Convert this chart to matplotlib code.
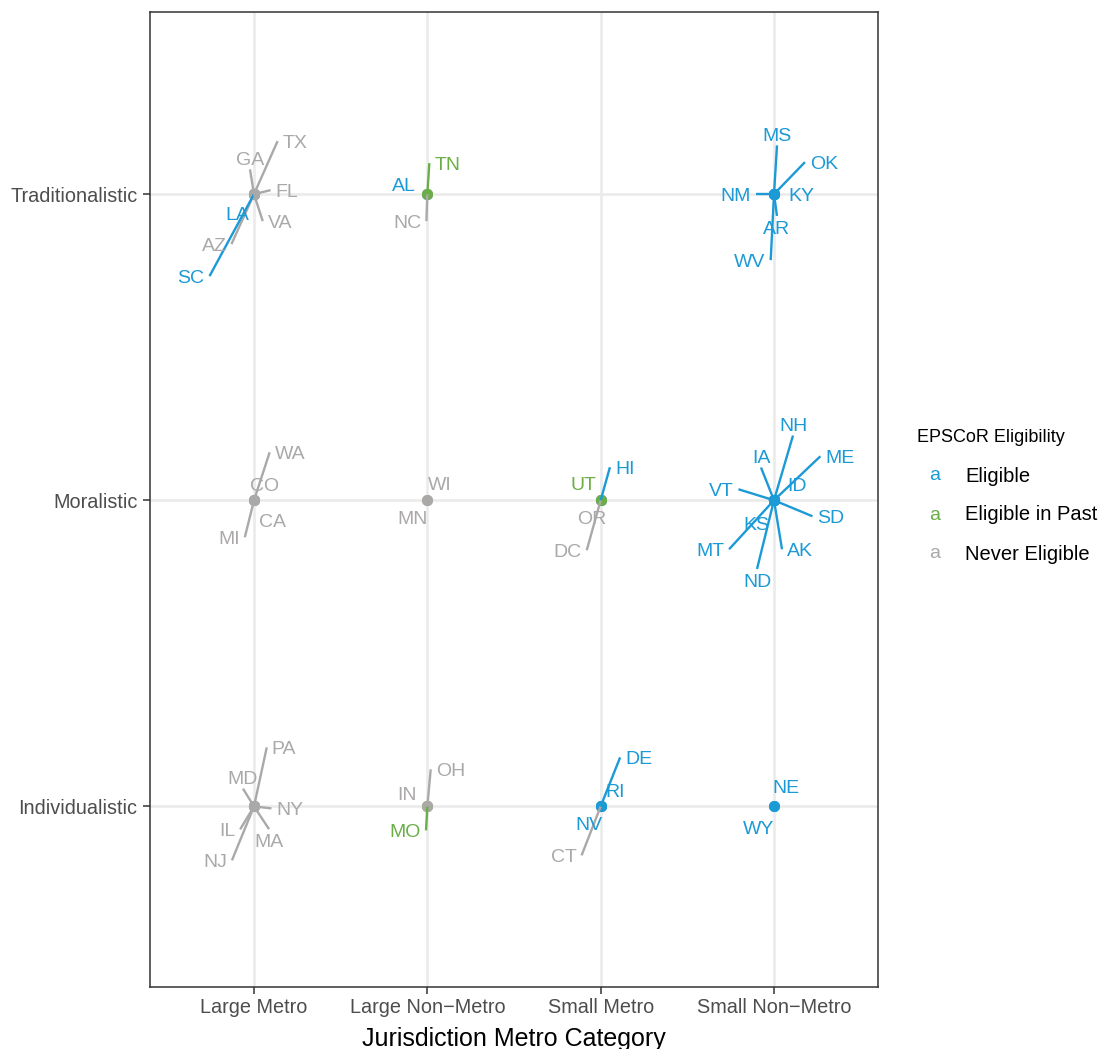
import matplotlib
matplotlib.use('Agg')
import matplotlib.pyplot as plt
from matplotlib.font_manager import FontProperties
import numpy as np

plt.rcParams['font.family'] = ['Liberation Sans', 'DejaVu Sans']

# ---- data ----
categories = ['Large Metro', 'Large Non\u2212Metro', 'Small Metro', 'Small Non\u2212Metro']
cultures = ['Individualistic', 'Moralistic', 'Traditionalistic']
elig_levels = ['Eligible', 'Eligible in Past', 'Never Eligible']

states = ['AK', 'AL', 'AR', 'AZ', 'CA', 'CO', 'CT', 'DC', 'DE', 'FL', 'GA', 'HI', 'IA',
          'ID', 'IL', 'IN', 'KS', 'KY', 'LA', 'MA', 'MD', 'ME', 'MI', 'MN', 'MO', 'MS',
          'MT', 'NC', 'ND', 'NE', 'NH', 'NJ', 'NM', 'NV', 'NY', 'OH', 'OK', 'OR', 'PA',
          'RI', 'SC', 'SD', 'TN', 'TX', 'UT', 'VA', 'VT', 'WA', 'WI', 'WV', 'WY']

LM, LNM, SM, SNM = categories
metro = [SNM, LNM, SNM, LM, LM, LM, SM, SM, SM, LM, LM, SM, SNM,
         SNM, LM, LNM, SNM, SNM, LM, LM, LM, SNM, LM, LNM, LNM, SNM,
         SNM, LNM, SNM, SNM, SNM, LM, SNM, SM, LM, LNM, SNM, SM, LM,
         SM, LM, SNM, LNM, LM, SM, LM, SNM, LM, LNM, SNM, SNM]

I_, M_, T_ = cultures
culture = [M_, T_, T_, T_, M_, M_, I_, M_, I_, T_, T_, M_, M_,
           M_, I_, I_, M_, T_, T_, I_, I_, M_, M_, M_, I_, T_,
           M_, T_, M_, I_, M_, I_, T_, I_, I_, I_, T_, M_, I_,
           I_, T_, M_, T_, T_, M_, T_, M_, M_, M_, T_, I_]

E_, P_, N_ = elig_levels
eligibility = [E_, E_, E_, N_, N_, N_, N_, N_, E_, N_, N_, E_, E_,
               E_, N_, N_, E_, E_, E_, N_, N_, E_, N_, N_, P_, E_,
               E_, N_, E_, E_, E_, N_, E_, E_, N_, N_, E_, N_, N_,
               E_, E_, E_, P_, N_, P_, N_, E_, N_, N_, E_, E_]

# label placement (pixel offsets from the point, y downwards) - repel layout
label_offset = {
    'AZ': (-40, 50), 'FL': (33, -4), 'GA': (-4, -36), 'LA': (-17, 19), 'SC': (-63, 82),
    'TX': (41, -53), 'VA': (26, 27),
    'AL': (-23, -10), 'NC': (-20, 27), 'TN': (20, -31),
    'AR': (3, 33), 'KY': (27, 0), 'MS': (3, -60), 'NM': (-38, 0), 'OK': (50, -32), 'WV': (-24, 66),
    'CA': (18, 20), 'CO': (11, -16), 'MI': (-25, 37), 'WA': (36, -48),
    'MN': (-15, 17), 'WI': (12, -17),
    'DC': (-33, 50), 'HI': (24, -33), 'OR': (-9, 17), 'UT': (-17, -17),
    'AK': (26, 49), 'IA': (-13, -44), 'ID': (23, -16), 'KS': (-18, 23), 'ME': (66, -44),
    'MT': (-64, 49), 'ND': (-17, 80), 'NH': (19, -76), 'SD': (57, 16), 'VT': (-53, -11),
    'IL': (-27, 23), 'MA': (15, 34), 'MD': (-11, -29), 'NJ': (-39, 54), 'NY': (36, 2), 'PA': (30, -59),
    'IN': (-20, -13), 'MO': (-22, 24), 'OH': (23, -37),
    'CT': (-37, 49), 'DE': (38, -49), 'NV': (-12, 17), 'RI': (14, -16),
    'NE': (12, -20), 'WY': (-15, 21),
}

colors = {'Eligible': '#1b9ad6', 'Eligible in Past': '#6aae45', 'Never Eligible': '#aba8a8'}

# ---- figure ----
fig = plt.figure(figsize=(11.05, 10.49), dpi=100)
ax = fig.add_axes([150 / 1105, 62 / 1049, 728 / 1105, 975 / 1049])
ax.set_xlim(0.4, 4.6)
ax.set_ylim(0.41, 3.595)

ax.set_xticks(range(1, 5))
ax.set_xticklabels(categories)
ax.set_yticks(range(1, 4))
ax.set_yticklabels(cultures)
ax.grid(True, color='#ebebeb', lw=1.9, zorder=0)
ax.set_axisbelow(True)
for sp in ax.spines.values():
    sp.set_color('#333333')
    sp.set_linewidth(1.1)
ax.tick_params(axis='both', colors='#333333', length=5, width=1.1,
               labelsize=14.3, labelcolor='#4d4d4d')
ax.tick_params(axis='y', pad=4)
ax.tick_params(axis='x', pad=3)
ax.set_xlabel('Jurisdiction Metro Category', fontsize=18, color='black', labelpad=7)

xs = [categories.index(m) + 1 for m in metro]
ys = [cultures.index(c) + 1 for c in culture]

# points (drawn in data order)
for x, y, e in zip(xs, ys, eligibility):
    ax.scatter([x], [y], s=64, color=colors[e], zorder=3, linewidths=0)

fig.canvas.draw()
renderer = fig.canvas.get_renderer()
label_fs = 14
prop = FontProperties(family=['Liberation Sans', 'DejaVu Sans'], size=label_fs)
cap_px = 0.716 * label_fs * 100 / 72
pad_x, pad_y = 5.0, 4.3

# segment: to the middle of the nearest side of the padded label box
inv = ax.transData.inverted()
for st, x, y, e in zip(states, xs, ys, eligibility):
    dx, dy = label_offset[st]
    if np.hypot(dx, dy) < 30:
        continue
    w, h, d = renderer.get_text_width_height_descent(st, prop, ismath=False)
    hw = w / 2 + pad_x
    hh = cap_px / 2 + pad_y
    if abs(dx) <= hw:
        ex, ey = dx, dy - np.sign(dy) * hh
    else:
        ex, ey = dx - np.sign(dx) * hw, dy
    p = ax.transData.transform((x, y))
    end = inv.transform((p[0] + ex, p[1] - ey))
    ax.plot([x, end[0]], [y, end[1]], color=colors[e], lw=1.7, zorder=4,
            solid_capstyle='butt')

for st, x, y, e in zip(states, xs, ys, eligibility):
    dx, dy = label_offset[st]
    ax.annotate(st, (x, y), xytext=(dx * 0.72, -(dy + cap_px / 2) * 0.72),
                textcoords='offset points', ha='center', va='baseline',
                fontsize=label_fs, color=colors[e], zorder=5)

# legend
fig.text(917 / 1105, 1 - 437 / 1049, 'EPSCoR Eligibility', fontsize=13, va='center', ha='left')
for i, lev in enumerate(elig_levels):
    yy = 1 - (476 + 39 * i) / 1049
    fig.text(935 / 1105, yy, 'a', fontsize=14, color=colors[lev], ha='center', va='center')
    fig.text(965 / 1105, yy, lev, fontsize=14.5, color='black', ha='left', va='center')

fig.savefig('out.png', dpi=100, facecolor='white')
